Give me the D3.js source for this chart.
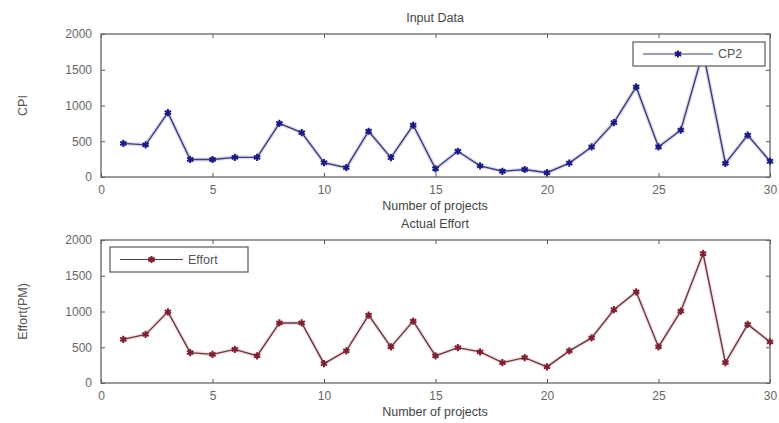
<!DOCTYPE html>
<html><head><meta charset="utf-8">
<script src="https://cdn.jsdelivr.net/npm/d3@7"></script>
<style>body{margin:0;background:#fff}svg{display:block}text{font-family:"Liberation Sans",Arial,sans-serif;fill:#555}</style>
</head><body>
<script>
const projects = d3.range(1, 31);
const cp2 = [470,450,900,245,245,275,275,750,620,200,130,640,270,725,115,360,155,80,105,60,195,420,760,1260,420,655,1750,190,585,220];
const effort = [610,680,995,425,400,470,380,840,840,270,450,950,505,865,380,495,435,285,355,225,450,630,1025,1275,505,1005,1810,285,820,575];
const xTicks = [0,5,10,15,20,25,30];
const yTicks = [0,500,1000,1500,2000];

const W = 779, H = 423;
const svg = d3.select("body").append("svg").attr("width", W).attr("height", H);

function panel(o){
  const x = d3.scaleLinear().domain([0,30]).range([101,770]);
  const y = d3.scaleLinear().domain([0,2000]).range([o.bottom,o.top]);
  const g = svg.append("g");
  const fmt = d3.format("d");
  g.append("g").attr("transform",`translate(0,${o.bottom})`)
   .call(d3.axisBottom(x).tickValues(xTicks).tickFormat(fmt).tickSizeInner(-4).tickSizeOuter(0).tickPadding(8))
   .call(s=>{s.select(".domain").remove();s.selectAll("line").attr("stroke","#555");s.selectAll("text").attr("font-size",12).style("fill","#666");});
  g.append("g").attr("transform",`translate(0,${o.top})`)
   .call(d3.axisTop(x).tickValues(xTicks).tickSizeInner(-4).tickSizeOuter(0).tickFormat(""))
   .call(s=>{s.select(".domain").remove();s.selectAll("line").attr("stroke","#555");});
  g.append("g").attr("transform",`translate(101,0)`)
   .call(d3.axisLeft(y).tickValues(yTicks).tickFormat(fmt).tickSizeInner(-4).tickSizeOuter(0).tickPadding(9))
   .call(s=>{s.select(".domain").remove();s.selectAll("line").attr("stroke","#555");s.selectAll("text").attr("font-size",12).style("fill","#666");});
  g.append("g").attr("transform",`translate(770,0)`)
   .call(d3.axisRight(y).tickValues(yTicks).tickSizeInner(-4).tickSizeOuter(0).tickFormat(""))
   .call(s=>{s.select(".domain").remove();s.selectAll("line").attr("stroke","#555");});
  g.append("rect").attr("x",101).attr("y",o.top).attr("width",669).attr("height",o.bottom-o.top)
   .attr("fill","none").attr("stroke","#666").attr("stroke-width",1.3);
  const line = d3.line().x((d,i)=>x(projects[i])).y(d=>y(d));
  g.append("path").datum(o.data).attr("d",line).attr("fill","none").attr("stroke",o.halo).attr("stroke-width",4).attr("opacity",0.35);
  g.append("path").datum(o.data).attr("d",line).attr("fill","none").attr("stroke",o.lineColor).attr("stroke-width",1.4);
  const sym = d3.symbol().type(d3.symbolAsterisk).size(36);
  g.selectAll(".m").data(o.data).join("path")
   .attr("transform",(d,i)=>`translate(${x(projects[i])},${y(d)})`)
   .attr("d",sym).attr("fill","none").attr("stroke",o.markColor).attr("stroke-width",2);
  const L=o.legend;
  g.append("rect").attr("x",L.x).attr("y",L.y).attr("width",L.w).attr("height",L.h)
   .attr("fill","#fff").attr("stroke","#666").attr("stroke-width",1.3);
  g.append("line").attr("x1",L.x+10).attr("x2",L.x+L.lw).attr("y1",L.y+L.h/2).attr("y2",L.y+L.h/2)
   .attr("stroke",o.lineColor).attr("stroke-width",1.2);
  g.append("path").attr("transform",`translate(${L.x+10+(L.lw-10)/2},${L.y+L.h/2})`).attr("d",sym)
   .attr("fill","none").attr("stroke",o.markColor).attr("stroke-width",2);
  g.append("text").attr("x",L.x+L.lw+5).attr("y",L.y+L.h/2).attr("dy","0.35em").attr("font-size",12.5).text(L.label);
  g.append("text").attr("x",435).attr("y",o.top-12).attr("text-anchor","middle").attr("font-size",12.5).style("fill","#444").text(o.title);
  g.append("text").attr("x",435).attr("y",o.bottom+33).attr("text-anchor","middle").attr("font-size",12.5).style("fill","#444").text("Number of projects");
  g.append("text").attr("transform",`translate(27,${(o.top+o.bottom)/2}) rotate(-90)`).attr("text-anchor","middle").attr("font-size",12.5).style("fill","#555").text(o.ylabel);
}

panel({top:34,bottom:177,data:cp2,title:"Input Data",ylabel:"CPI",lineColor:"#3c3c66",markColor:"#1a1a80",halo:"#9999ee",
  legend:{x:633,y:42,w:132,h:24,lw:80,label:"CP2"}});
panel({top:240,bottom:383,data:effort,title:"Actual Effort",ylabel:"Effort(PM)",lineColor:"#5a3c40",markColor:"#7a2030",halo:"#f4a0a8",
  legend:{x:110,y:247,w:138,h:25,lw:73,label:"Effort"}});
</script>
</body></html>
